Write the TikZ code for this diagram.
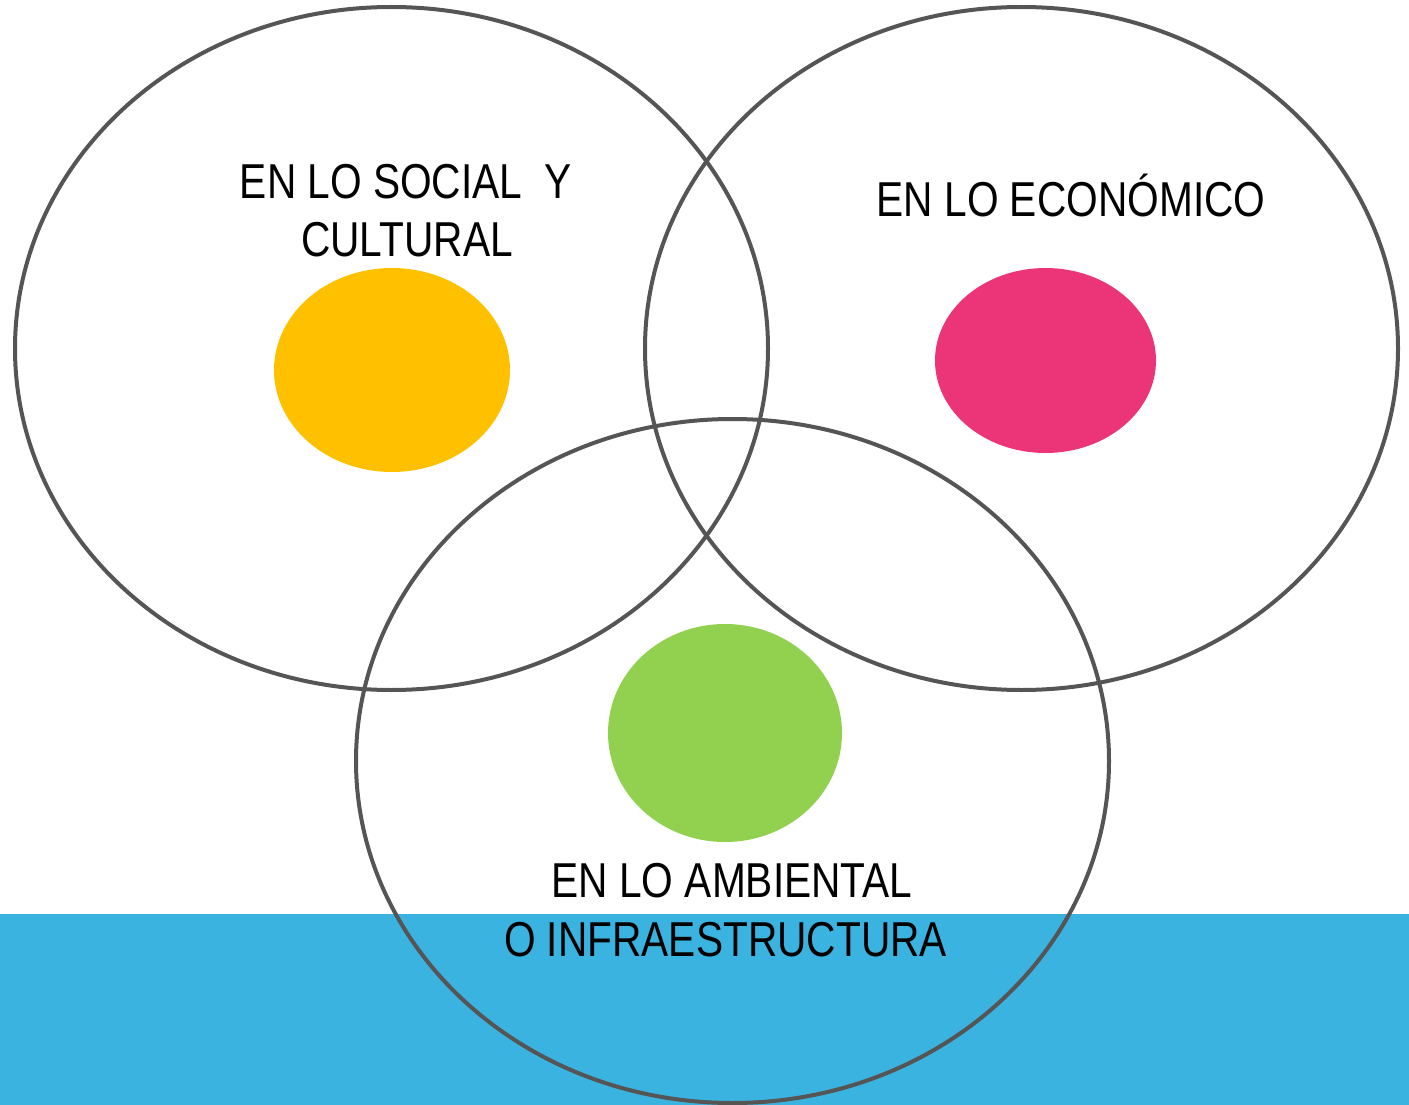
\documentclass[tikz,border=0pt]{standalone}
\usepackage{fontspec}
\setmainfont{Liberation Sans}[FakeStretch=0.83]
\definecolor{ringgray}{HTML}{555555}
\definecolor{bandblue}{HTML}{3BB3E0}
\definecolor{dotyellow}{HTML}{FFC000}
\definecolor{dotpink}{HTML}{EC3579}
\definecolor{dotgreen}{HTML}{92D050}
\begin{document}
\begin{tikzpicture}[x=1pt,y=-1pt,
  ring/.style={draw=ringgray,line width=4pt},
  lbl/.style={anchor=base,inner sep=0pt,font=\fontsize{49}{58}\selectfont,text=black}]
\useasboundingbox (0,0) rectangle (1409,1105);
\fill[bandblue] (0,914) rectangle (1409,1105);
\fill[dotyellow] (392,370) ellipse [x radius=118,y radius=102];
\fill[dotpink] (1045.5,360.5) ellipse [x radius=110.5,y radius=92.5];
\fill[dotgreen] (725,733) ellipse [x radius=117,y radius=109];
\draw[ring] (391.5,348.5) ellipse [x radius=376.5,y radius=341.5];
\draw[ring] (1021.5,348.5) ellipse [x radius=376.5,y radius=341.5];
\draw[ring] (732.5,761) ellipse [x radius=376.5,y radius=342];
\node[lbl] (s1) at (406,198) {EN LO SOCIAL\ \ Y};
\node[lbl] (s2) at (407,256) {CULTURAL};
\node[lbl] (e1) at (1071,216) {EN LO ECONÓMICO};
\node[lbl] (a1) at (732,897) {EN LO AMBIENTAL};
\node[lbl] (a2) at (725.5,956) {O INFRAESTRUCTURA};
\end{tikzpicture}
\end{document}
